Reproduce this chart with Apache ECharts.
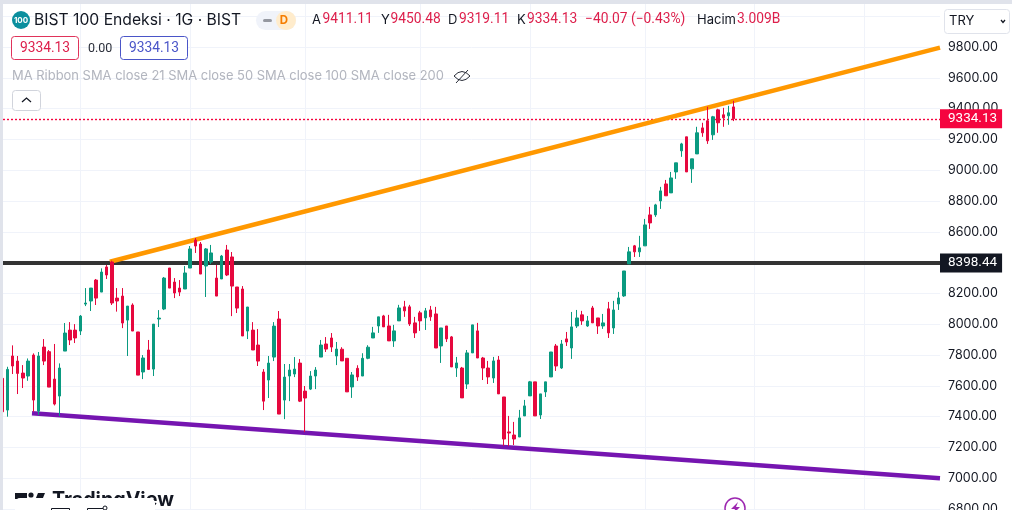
<!DOCTYPE html>
<html><head><meta charset="utf-8">
<style>html,body{margin:0;padding:0;background:#fff}#c{width:1012px;height:510px}</style>
<script src="https://cdn.jsdelivr.net/npm/echarts@6/dist/echarts.min.js"></script>
</head><body><div id="c"></div>
<script>
const opens=[7649,7443,7794,7761,7683,7664,7800,7436,7852,7822,7644,7534,7826,7962,7962,7956,8131,8151,8287,8209,8372,8404,8170,8183,8027,8125,7950,7690,7833,7709,8034,8099,8365,8274,8235,8229,8365,8547,8521,8378,8404,8300,8294,8482,8437,8242,8229,7956,7962,7865,7690,7638,7787,8034,7508,7664,7677,7748,7566,7579,7664,7787,7872,7911,7794,
7838,7779,7593,7714,7664,7779,7911,7989,8054,7989,7892,8022,8113,8113,8009,8074,8041,8093,8067,7859,7989,7918,7716,7716,7612,7814,7957,7781,7716,7651,7768,
7528,7301,7281,7268,7405,7535,7626,7411,7561,7658,7859,7716,7905,7846,7989,8061,7989,8106,8041,7989,8100,7976,8132,8184,
8392,8509,8470,8509,8710,8710,8801,8911,8853,8989,9126,9217,9009,9106,9275,9321,9230,9392,9360,9353,9411.11];
const closes=[7432,7707,7729,7681,7651,7761,7508,7794,7761,7592,7482,7716,7943,7898,7911,8053,8138,8235,8170,8339,8320,8138,8151,8008,8118,7956,7670,7781,7707,8001,8040,8300,8235,8203,8209,8333,8489,8508,8326,8489,8463,8183,8443,8320,8248,8105,7924,8112,7833,7761,7501,7748,7988,7417,7657,7703,7709,7501,7521,7664,7703,7865,7839,7852,7839,
7762,7561,7671,7658,7779,7851,7944,8048,7983,7892,7957,8106,8087,8002,7944,8022,8087,8048,7846,7976,7905,7723,7749,7522,7814,7996,7781,7716,7658,7762,7548,
7255,7294,7255,7392,7470,7626,7405,7548,7626,7820,7729,7872,7885,7983,8041,8022,8022,8009,7989,8009,7944,8093,8171,8346,
8470,8470,8496,8645,8658,8775,8866,8834,8950,9048,9171,8989,9074,9243,9243,9191,9347,9308,9340,9373,9334.13];
const lows=[7420,7400,7677,7547,7586,7633,7432,7410,7735,7592,7473,7404,7826,7865,7878,7930,8118,8086,8125,8209,8294,8125,8082,7975,7794,7956,7670,7644,7703,7664,7982,8092,8235,8170,8183,8229,8365,8463,8326,8177,8391,8183,8294,8313,8053,8073,7924,7904,7833,7729,7443,7521,7761,7417,7384,7501,7657,7495,7300,7573,7579,7787,7820,7820,7735,
7762,7561,7522,7632,7664,7773,7911,7944,7983,7892,7853,8022,8048,7989,7911,7957,7963,8022,7846,7749,7885,7723,7658,7522,7580,7814,7781,7638,7612,7619,7548,
7210,7210,7216,7268,7405,7535,7405,7385,7528,7658,7697,7710,7859,7775,7976,7996,7983,8009,7937,7970,7911,7937,8093,8178,
8392,8437,8437,8509,8619,8697,8749,8834,8853,8944,9087,8989,8918,9106,9217,9171,9197,9243,9282,9295,9319.11];
const highs=[7660,7724,7863,7794,7735,7778,7811,7820,7904,7833,7872,7746,8008,8014,8001,8060,8235,8235,8294,8363,8385,8413,8235,8235,8118,8136,7950,7800,7898,8001,8092,8307,8365,8300,8287,8378,8508,8560,8534,8495,8515,8385,8450,8515,8469,8242,8248,8112,8014,7969,7709,7794,8014,8086,7742,7742,7787,7774,7599,7696,7722,7898,7917,7943,7885,
7851,7779,7690,7734,7812,7864,7983,8048,8061,8061,7996,8126,8152,8126,8048,8087,8106,8119,8113,7976,7989,7924,7788,7723,7833,7996,8009,7788,7762,7788,7794,
7528,7405,7366,7444,7509,7632,7626,7548,7626,7820,7872,7898,7950,8080,8093,8087,8054,8119,8041,8067,8145,8152,8210,8346,
8502,8515,8574,8684,8762,8782,8892,8937,8989,9048,9178,9217,9074,9282,9308,9412,9353,9399,9405,9418,9450.48];
const sessionGridlines=[15,36,58,80,101,123,144,165];
const xMin=0.18,xMax=179.47;
const priceTicks={min:6800,max:10200,interval:200};
const resistance=[[20.63,8406],[xMax,9796]];
const support=[[5.73,7423],[xMax,7000]];
const horizontalLevel=8398.44;
const lastClose=9334.13;
const legendRow=["A","9411.11","Y","9450.48","D","9319.11","K","9334.13"];
const changeText="−40.07 (−0.43%)", volumeLabel="Hacim", volumeValue="3.009B";
const RED='#e6083e',GREEN='#0a9a80',TEXTRED='#dd1f4b',DARK='#131722',FONT='Inter',NUM='Roboto';

const rows=opens.map((o,k)=>[k,o,closes[k],lows[k],highs[k]]);
const seg=(p,c,w)=>[{coord:p[0],label:{show:false},lineStyle:{color:c,width:w,type:'solid'}},{coord:p[1]}];
const tag=(v,bg)=>({show:true,position:'end',distance:0,formatter:v.toFixed(2),color:'#fff',backgroundColor:bg,
  fontFamily:NUM,fontSize:13.5,padding:[3,5,2,8]});
const t=(x,y,text,fill,size,extra,fam)=>({type:'text',x,y,z:50,style:Object.assign({text,fill,font:`${size}px ${fam||FONT}`,textVerticalAlign:'middle',textAlign:'left'},extra||{})});
const n=(x,y,text,fill,size,extra)=>t(x,y,text,fill,size,extra,NUM);
const r=(x,y,w,h,fill,stroke,rad,z)=>({type:'rect',x,y,z:z||49,shape:{x:0,y:0,width:w,height:h,r:rad||0},style:{fill,stroke:stroke||null,lineWidth:1}});
const pl=(pts,stroke,w,z)=>({type:'polyline',z:z||51,shape:{points:pts},style:{fill:null,stroke,lineWidth:w}});
const pg=(pts,fill,z)=>({type:'polygon',z:z||50,shape:{points:pts},style:{fill}});
const bz=(x1,y1,cx,cy,x2,y2)=>({type:'bezierCurve',z:50,shape:{x1,y1,x2,y2,cpx1:cx,cpy1:cy},style:{fill:null,stroke:'#2a2e39',lineWidth:1}});

const graphic=[
 r(0,0,1012,4,'#e0e3eb',null,0,60), r(0,0,3,510,'#e0e3eb',null,0,60),
 {type:'circle',z:50,shape:{cx:21,cy:20,r:9},style:{fill:'#0b8f9e'}},
 t(21,20.5,'100','#fff',8,{textAlign:'center',font:`bold 8px ${FONT}`}),
 t(34,20,'BIST 100 Endeksi · 1G · BIST',DARK,15.7),
 r(256,11,40,19,'#f0f3fa',null,9.5), r(276,11,20,19,'#ffeccc',null,9.5),
 r(263,19,9,3,'#9598a1',null,1.5,51),
 t(284,20.5,'D','#f57c00',11.5,{textAlign:'center',font:`bold 11.5px ${FONT}`}),
 t(312,20,legendRow[0],DARK,13),n(322.5,20,legendRow[1],TEXTRED,13.8),
 t(381,20,legendRow[2],DARK,13),n(390.5,20,legendRow[3],TEXTRED,13.8),
 t(448,20,legendRow[4],DARK,13),n(459,20,legendRow[5],TEXTRED,13.8),
 t(517,20,legendRow[6],DARK,13),n(527,20,legendRow[7],TEXTRED,13.8),
 n(585,20,changeText,TEXTRED,13.8),
 t(697,20,volumeLabel,DARK,13),n(737,20,volumeValue,TEXTRED,13.8),
 r(11.5,36.5,67,23,'#fff','#e0335a',3),
 n(45,48.5,'9334.13',TEXTRED,13.8,{textAlign:'center'}),
 n(88,49,'0.00','#2a2e39',12.5),
 r(120.5,36.5,67,23,'#fff','#4a55c8',3),
 n(154,48.5,'9334.13','#4a55c8',13.8,{textAlign:'center'}),
 t(12,76,'MA Ribbon SMA close 21 SMA close 50 SMA close 100 SMA close 200','#b2b5be',12.95),
 bz(454,76,462,67,470,76), bz(454,76,462,85,470,76), pl([[456,83],[468,70]],'#2a2e39',1,50),
 r(12.5,90.5,28,20,'#fff','#d1d4dc',3),
 pl([[22,102],[26.5,98],[31,102]],'#131722',1.3),
 r(944.5,9.5,65,24,'#fff','#e0e3eb',3,55),
 {type:'text',x:949,y:21,z:56,style:{text:'TRY',fill:DARK,font:`13px ${FONT}`,textVerticalAlign:'middle'}},
 pl([[1001,20],[1003,22.5],[1005,20]],'#131722',1.3,56),
 pg([[15,493],[27,493],[27,508],[21,508],[21,499],[15,499]],'#131722'),
 pg([[38,493],[45,493],[38,510],[31,510]],'#131722'),
 {type:'circle',z:50,shape:{cx:31,cy:495,r:2.6},style:{fill:'#131722'}},
 t(52,500,'TradingView','#131722',19.7,{font:`bold 19.7px ${FONT}`}),
 r(15,498,140,16,'#fff',null,5,52),
 pl([[51.5,510],[51.5,508.5],[69.5,508.5],[69.5,510]],'#131722',1,53),
 pl([[87.5,510],[87.5,508.5],[103,508.5]],'#131722',1,53),
 {type:'circle',z:53,shape:{cx:105,cy:508,r:2},style:{fill:'#fff',stroke:'#131722',lineWidth:1}},
 {type:'circle',z:50,shape:{cx:735,cy:508,r:10},style:{fill:'#fff',stroke:'#9c27b0',lineWidth:1.5}},
 pg([[738,502],[731,509],[735,509],[732,515],[740,507],[736,507]],'#9c27b0',51)
];

const option={
 animation:false,backgroundColor:'#fff',
 grid:{left:3,right:72,top:-14.6,bottom:0.9,containLabel:false,outerBoundsMode:'none'},
 xAxis:{type:'value',min:xMin,max:xMax,show:true,axisLine:{show:false},axisTick:{show:false},axisLabel:{show:false},splitLine:{show:false}},
 yAxis:{type:'value',position:'right',min:priceTicks.min,max:priceTicks.max,interval:priceTicks.interval,scale:true,
  axisLine:{show:false},axisTick:{show:false},
  axisLabel:{color:DARK,fontFamily:FONT,fontSize:12.5,margin:8,formatter:v=>v.toFixed(2)},
  splitLine:{show:true,lineStyle:{color:'#f0f3fa',width:1}}},
 graphic,
 series:[
  {type:'line',name:'Çizimler',data:[],z:1,silent:true,
   markLine:{z:1,silent:true,symbol:'none',animation:false,precision:2,
    data:[
     ...sessionGridlines.map(x=>({xAxis:x,label:{show:false},lineStyle:{color:'#f0f3fa',width:1,type:'solid'}})),
     [{coord:[xMin,lastClose],lineStyle:{color:'#f5053f',width:1.4,type:[2,2]},label:tag(lastClose,'#f5053f')},{coord:[xMax,lastClose]}],
     [{coord:[xMin,horizontalLevel],lineStyle:{color:'#333',width:4,type:'solid'},label:tag(horizontalLevel,'#131722')},{coord:[xMax,horizontalLevel]}],
     seg(resistance,'#ff9800',4.5),
     seg(support,'#7515b0',4.5)
    ]}},
  {type:'candlestick',name:'BIST 100',z:2,barWidth:3,silent:true,encode:{x:0,y:[1,2,3,4]},data:rows,
   itemStyle:{color:GREEN,color0:RED,borderColor:GREEN,borderColor0:RED,borderWidth:1}}
 ]
};
const chart=echarts.init(document.getElementById('c'),null,{renderer:'canvas'});
chart.setOption(option);
</script></body></html>
